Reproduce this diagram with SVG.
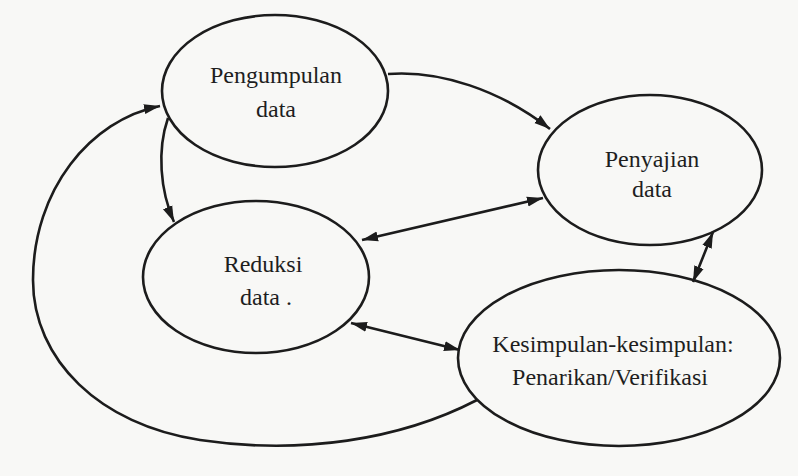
<svg xmlns="http://www.w3.org/2000/svg" width="798" height="476" viewBox="0 0 798 476">
<style>
.bg{fill:#f8f8f6}
.node ellipse{fill:none;stroke:#1c1c1c;stroke-width:2.6}
.node text{font-size:24px;fill:#1e1e1e;text-anchor:middle}
.conn path{fill:none;stroke:#1c1c1c;stroke-width:2.6}
</style>
<defs>
<marker id="ah" markerUnits="userSpaceOnUse" markerWidth="18" markerHeight="12" refX="16" refY="6" orient="auto-start-reverse">
<path d="M0,1 L16,6 L0,11 Z" fill="#1c1c1c"/>
</marker>
</defs>
<rect class="bg" x="0" y="0" width="798" height="476"/>
<g class="conn">
<path d="M388,74 C440,70 500,90 550,129" marker-end="url(#ah)"/>
<path d="M168,118 C157,150 160,190 174,222" marker-end="url(#ah)"/>
<path d="M362,240 L543,198" marker-start="url(#ah)" marker-end="url(#ah)"/>
<path d="M351,323 L460,350" marker-start="url(#ah)" marker-end="url(#ah)"/>
<path d="M713,232 L693,282" marker-start="url(#ah)" marker-end="url(#ah)"/>
<path d="M477,400 C400,440 300,455 200,440 C100,425 33,360 33,280 C33,190 90,120 160,106" marker-end="url(#ah)"/>
</g>
<g font-family="'Liberation Serif', 'Times New Roman', 'DejaVu Serif', serif">
<g id="pengumpulan" class="node">
<ellipse cx="275" cy="91" rx="113" ry="76"/>
<text x="276" y="83">Pengumpulan</text>
<text x="276" y="117">data</text>
</g>
<g id="penyajian" class="node">
<ellipse cx="650" cy="170" rx="112" ry="75"/>
<text x="652" y="167">Penyajian</text>
<text x="652" y="197">data</text>
</g>
<g id="reduksi" class="node">
<ellipse cx="256" cy="277" rx="113" ry="76"/>
<text x="263" y="272">Reduksi</text>
<text x="240" y="305" style="text-anchor:start">data .</text>
</g>
<g id="kesimpulan" class="node">
<ellipse cx="619" cy="358" rx="161" ry="88"/>
<text x="613" y="352">Kesimpulan-kesimpulan:</text>
<text x="610" y="385">Penarikan/Verifikasi</text>
</g>
</g>
</svg>
